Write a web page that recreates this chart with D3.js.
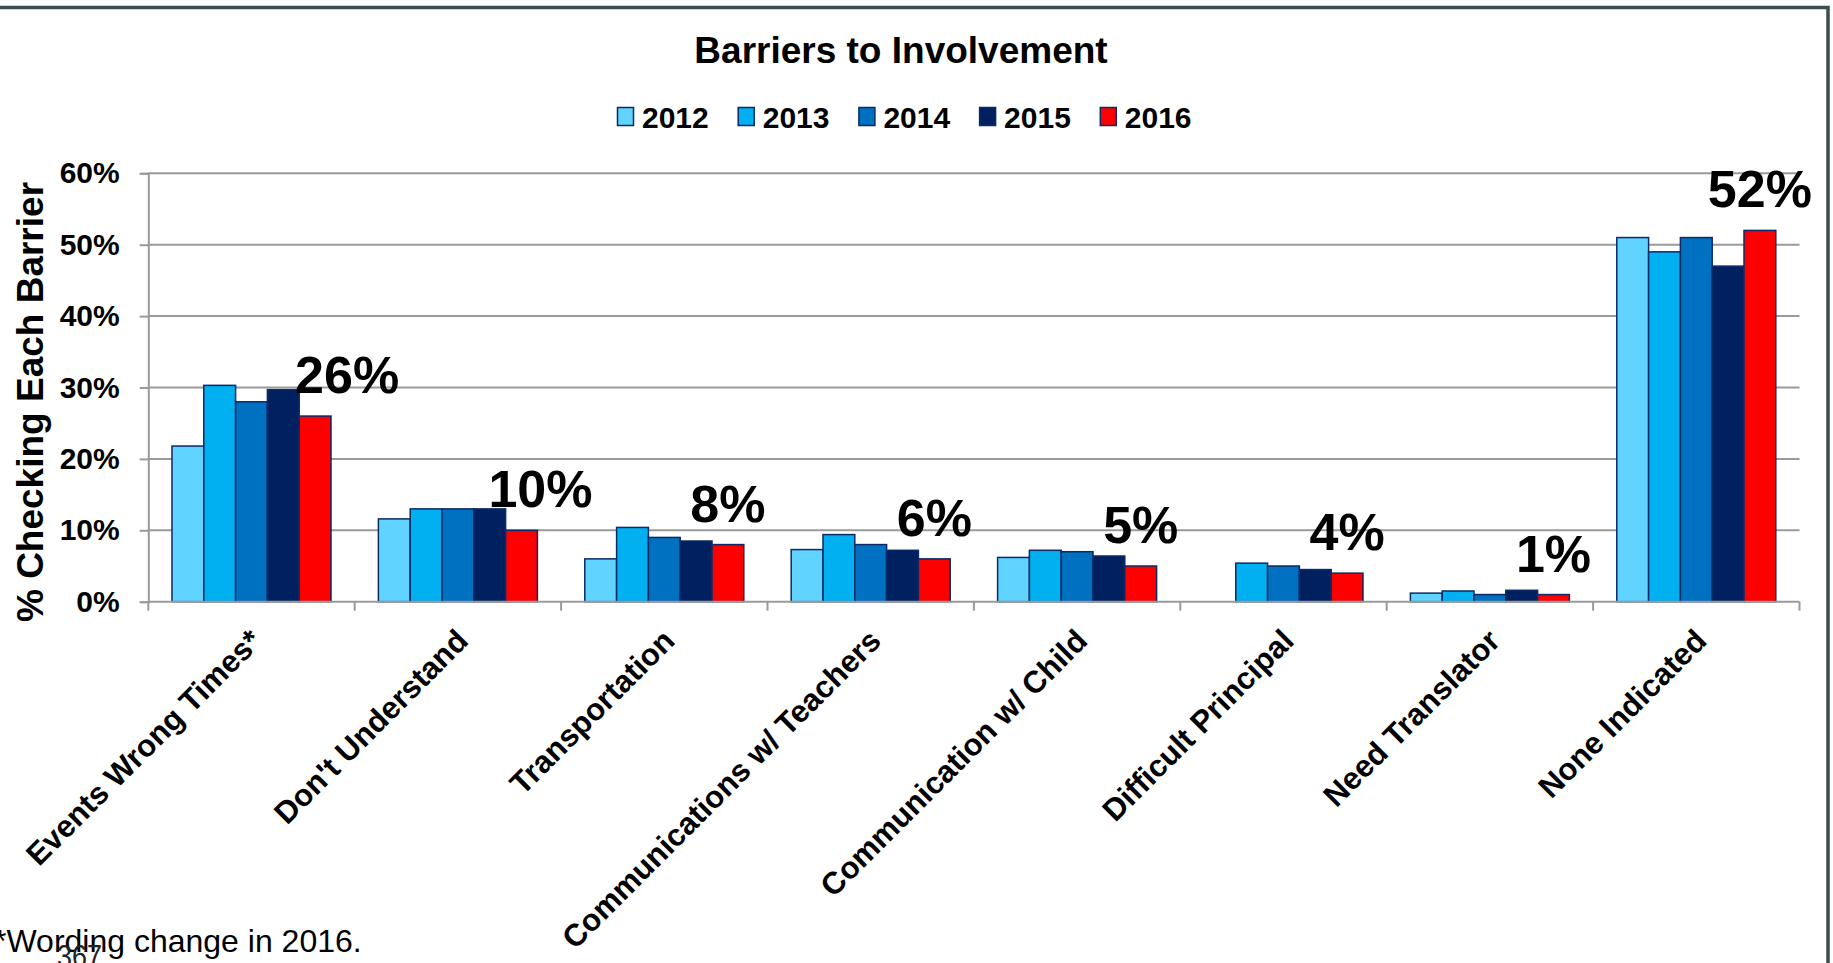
<!DOCTYPE html>
<html>
<head>
<meta charset="utf-8">
<title>Barriers to Involvement</title>
<script src="https://cdn.jsdelivr.net/npm/d3@7"></script>
<style>
  html, body { margin: 0; padding: 0; background: #fff; overflow: hidden; }
  svg { display: block; font-family: "Liberation Sans", Arial, Helvetica, sans-serif; }
</style>
</head>
<body>
<svg id="chart" width="1833" height="963"></svg>
<script>
// ---- data ----
const categories = [
  "Events Wrong Times*", "Don't Understand", "Transportation",
  "Communications w/ Teachers", "Communication w/ Child",
  "Difficult Principal", "Need Translator", "None Indicated"
];
const years = ["2012", "2013", "2014", "2015", "2016"];
const v2012 = [21.8, 11.6, 6.0, 7.3, 6.2, null, 1.2, 51];
const v2013 = [30.3, 13.0, 10.4, 9.4, 7.2, 5.4, 1.5, 49];
const v2014 = [28.0, 13.0, 9.0, 8.0, 7.0, 5.0, 1.0, 51];
const v2015 = [29.7, 13.0, 8.5, 7.2, 6.4, 4.5, 1.6, 47];
const v2016 = [26, 10, 8, 6, 5, 4, 1, 52];
const yTicks = [0, 10, 20, 30, 40, 50, 60];
const footnote = "*Wording change in 2016.";
const pageNumber = "367";

// ---- layout / style ----
const seriesValues = [v2012, v2013, v2014, v2015, v2016];
const colors = ["#61D3FF", "#00B0F0", "#0070C0", "#002060", "#FF0000"];
const barStroke = "#0B2A66";
const gridColor = "#9a9a9a";
const plot = { left: 148.3, right: 1799.5, top: 173.3, bottom: 601.7 };
// horizontal nudge (px) of each 2016 callout, to clear taller neighbouring bars
const calloutNudge = [32, 19, 0, 0, 0, 0, 0, 0];

const svg = d3.select("#chart");

// slide frame
svg.append("rect")
  .attr("x", -10).attr("y", 7.5)
  .attr("width", 1838).attr("height", 1000)
  .attr("fill", "none").attr("stroke", "#3a4e4e").attr("stroke-width", 3.5);

const x0 = d3.scaleBand().domain(categories).range([plot.left, plot.right]).padding(0);
const x1 = d3.scaleBand().domain(years).range([0, x0.bandwidth()])
  .paddingInner(0).paddingOuter(0.745);
const y = d3.scaleLinear().domain([0, 60]).range([plot.bottom, plot.top]);

// gridlines
svg.append("g").selectAll("line").data(yTicks.filter(t => t > 0)).join("line")
  .attr("x1", plot.left).attr("x2", plot.right)
  .attr("y1", d => y(d)).attr("y2", d => y(d))
  .attr("stroke", gridColor).attr("stroke-width", 2);

// y axis
const yAxis = svg.append("g").attr("transform", `translate(${plot.left},0)`)
  .call(d3.axisLeft(y).tickValues(yTicks).tickSize(8.6).tickPadding(20).tickFormat(d => d + "%"));
yAxis.select(".domain").attr("stroke", gridColor).attr("stroke-width", 2);
yAxis.selectAll(".tick line").attr("stroke", gridColor).attr("stroke-width", 2);
yAxis.selectAll(".tick text")
  .attr("font-size", 30).attr("font-weight", "bold").attr("fill", "#000")
  .attr("font-family", "Liberation Sans, Arial, sans-serif");

// bars
const rows = [];
categories.forEach((c, i) => {
  years.forEach((yr, j) => {
    const v = seriesValues[j][i];
    if (v !== null && v !== undefined) rows.push({ c, yr, v, j });
  });
});
svg.append("g").selectAll("rect").data(rows).join("rect")
  .attr("x", d => x0(d.c) + x1(d.yr))
  .attr("y", d => y(d.v))
  .attr("width", x1.bandwidth())
  .attr("height", d => y(0) - y(d.v))
  .attr("fill", d => colors[d.j])
  .attr("stroke", barStroke).attr("stroke-width", 1.5);

// x axis
const xAxisG = svg.append("g");
xAxisG.append("line")
  .attr("x1", plot.left).attr("x2", plot.right)
  .attr("y1", plot.bottom).attr("y2", plot.bottom)
  .attr("stroke", gridColor).attr("stroke-width", 2);
const boundaries = categories.map(c => x0(c)).concat([x0(categories[categories.length - 1]) + x0.bandwidth()]);
xAxisG.selectAll("line.tick").data(boundaries).join("line").attr("class", "tick")
  .attr("x1", d => d).attr("x2", d => d)
  .attr("y1", plot.bottom).attr("y2", plot.bottom + 9)
  .attr("stroke", gridColor).attr("stroke-width", 2);
xAxisG.selectAll("text").data(categories).join("text")
  .attr("transform", d => `translate(${x0(d) + x0.bandwidth() / 2 + 12},${plot.bottom + 41}) rotate(-45)`)
  .attr("text-anchor", "end")
  .attr("font-size", 31).attr("font-weight", "bold").attr("fill", "#000")
  .text(d => d);

// 2016 callouts
svg.append("g").selectAll("text").data(categories).join("text")
  .attr("x", (d, i) => x0(d) + x1("2016") + x1.bandwidth() / 2 + calloutNudge[i])
  .attr("y", (d, i) => y(v2016[i]) - 23)
  .attr("text-anchor", "middle")
  .attr("font-size", 52).attr("font-weight", "bold").attr("fill", "#000")
  .text((d, i) => v2016[i] + "%");

// y axis title
svg.append("text")
  .attr("transform", "translate(42.5,402) rotate(-90)")
  .attr("text-anchor", "middle")
  .attr("font-size", 37).attr("font-weight", "bold").attr("fill", "#000")
  .text("% Checking Each Barrier");

// title
svg.append("text")
  .attr("x", 901).attr("y", 63)
  .attr("text-anchor", "middle")
  .attr("font-size", 37).attr("font-weight", "bold").attr("fill", "#000")
  .text("Barriers to Involvement");

// legend
const legend = svg.append("g").attr("transform", "translate(617,0)");
const item = legend.selectAll("g").data(years).join("g")
  .attr("transform", (d, i) => `translate(${i * 120.7},0)`);
item.append("rect")
  .attr("x", 0.5).attr("y", 107.5).attr("width", 16).attr("height", 18)
  .attr("fill", (d, i) => colors[i]).attr("stroke", barStroke).attr("stroke-width", 1.5);
item.append("text")
  .attr("x", 25).attr("y", 127.7)
  .attr("font-size", 30).attr("font-weight", "bold").attr("fill", "#000")
  .text(d => d);

// footnote and page number
svg.append("text")
  .attr("x", -6).attr("y", 952)
  .attr("font-size", 32).attr("fill", "#000")
  .text(footnote);
svg.append("text")
  .attr("x", 57).attr("y", 967)
  .attr("font-size", 32).attr("fill", "#222")
  .attr("textLength", 45).attr("lengthAdjust", "spacingAndGlyphs")
  .text(pageNumber);
</script>
</body>
</html>
